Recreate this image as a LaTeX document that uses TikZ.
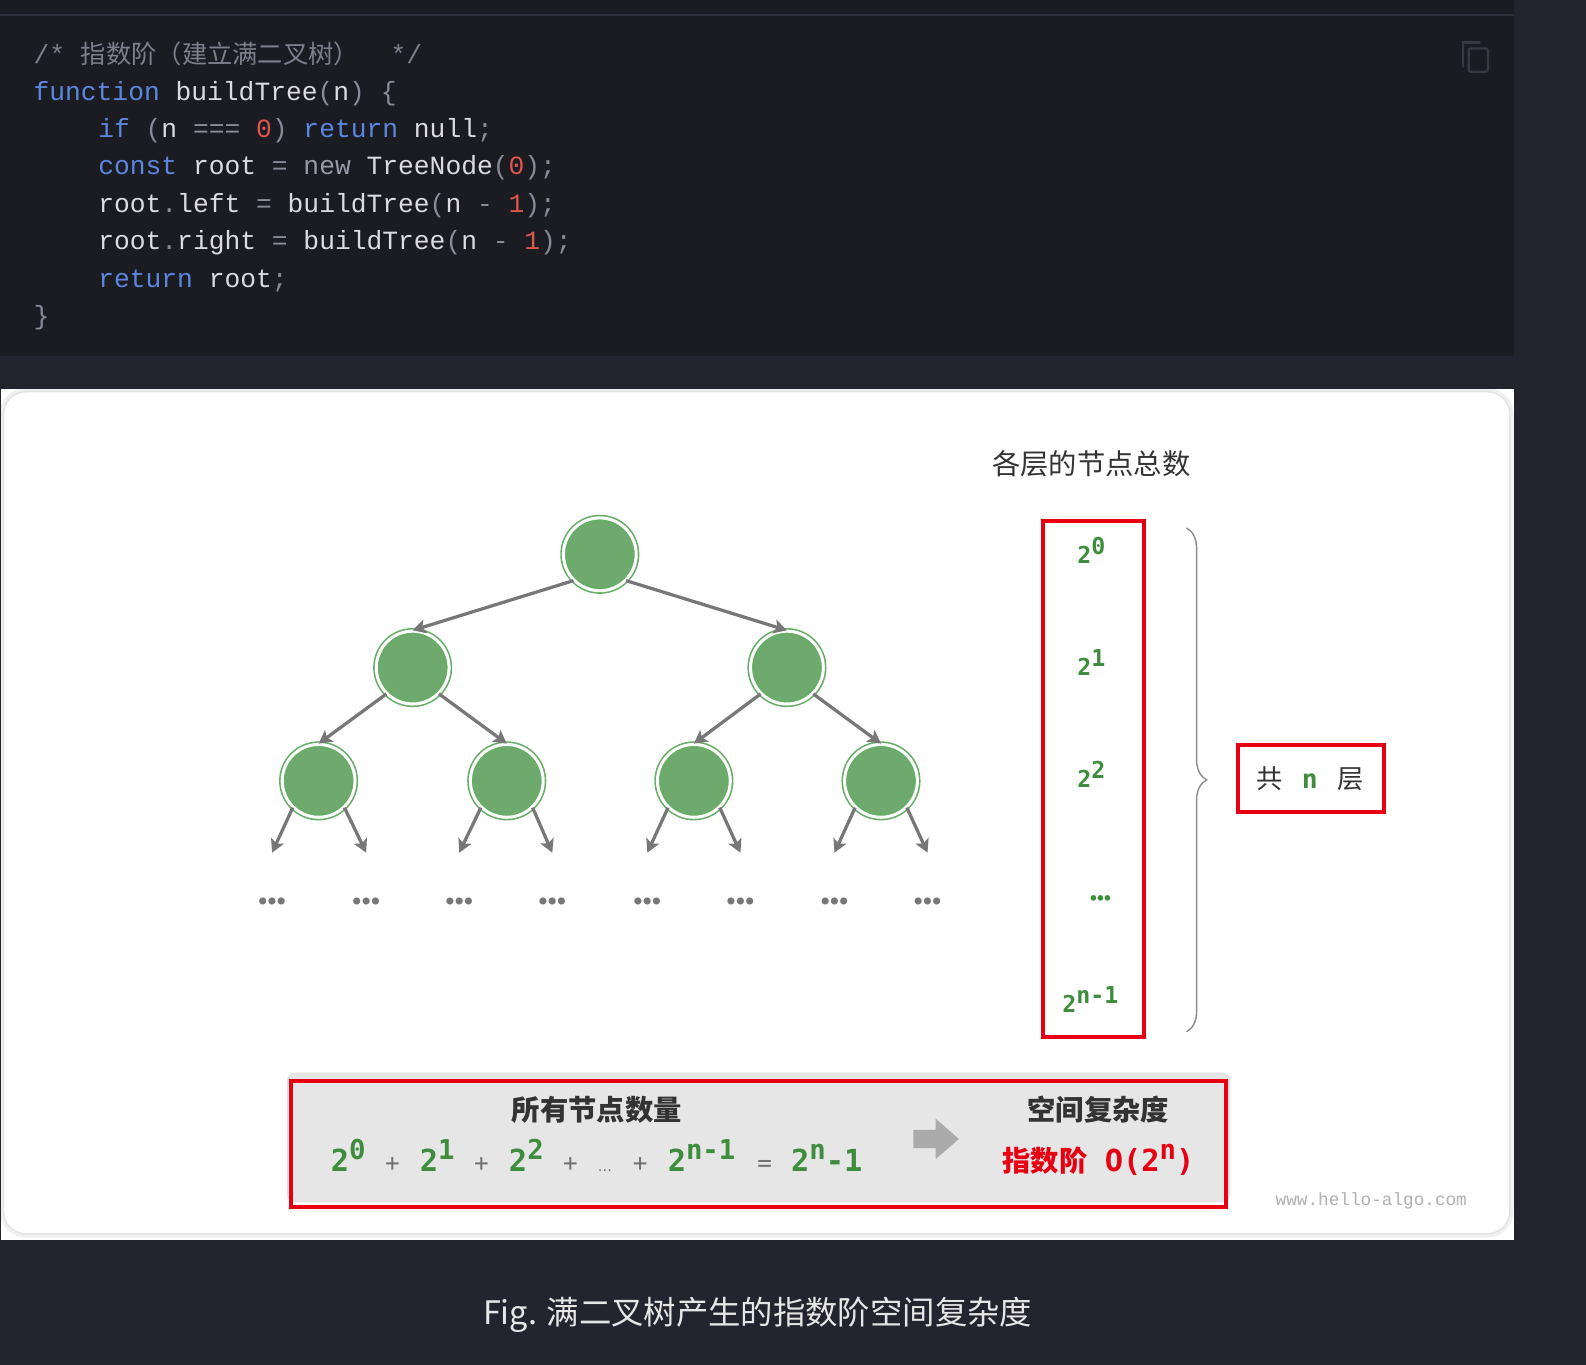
\documentclass[tikz,border=0pt]{standalone}
\usepackage{fontspec}
\usetikzlibrary{arrows.meta,decorations.pathreplacing}
\newfontfamily\cjk{Noto Sans CJK SC}
\newfontfamily\codefont{Liberation Mono}
\newfontfamily\numfont{DejaVu Sans Mono}
\newfontfamily\dvs{DejaVu Sans}
\newcommand\setfs[1]{\fontsize{#1}{#1}\selectfont}
\newcommand\hi[2]{\raisebox{#1}{#2}}
\newcommand\bigdots{•\kern-5pt•\kern-5pt•}
\newcommand\coldots{•\kern-4.2pt•\kern-4.2pt•}
\definecolor{pagebg}{HTML}{24242E}
\definecolor{panelbg}{HTML}{1B1B22}
\definecolor{topline}{HTML}{30303B}
\definecolor{kwblue}{HTML}{5C87E0}
\definecolor{idwhite}{HTML}{DCDCE0}
\definecolor{pungray}{HTML}{8A8A98}
\definecolor{numred}{HTML}{E0554E}
\definecolor{cmtgray}{HTML}{7E7E8C}
\definecolor{newgray}{HTML}{9A9AA8}
\definecolor{icongray}{HTML}{383842}
\definecolor{nodegreen}{HTML}{6EAA6E}
\definecolor{ringgreen}{HTML}{66AE66}
\definecolor{edgegray}{HTML}{777777}
\definecolor{txtdark}{HTML}{333333}
\definecolor{numgreen}{HTML}{3D8D3D}
\definecolor{redbox}{HTML}{E60012}
\definecolor{boxgray}{HTML}{E6E6E6}
\definecolor{arrowgray}{HTML}{ABABAB}
\definecolor{urlgray}{HTML}{B0B0B0}
\definecolor{bracegray}{HTML}{8C8C8C}
\definecolor{captxt}{HTML}{E6E6E6}
\definecolor{plusgray}{HTML}{707070}
\newcommand\KW[1]{\textcolor{kwblue}{#1}}
\newcommand\PN[1]{\textcolor{pungray}{#1}}
\newcommand\NM[1]{\textcolor{numred}{#1}}
\begin{document}
\begin{tikzpicture}[x=1pt,y=-1pt,
  codeline/.style={anchor=base west, inner sep=0, font=\codefont\setfs{26}, text=idwhite},
  treenode/.style={circle, minimum size=72pt, inner sep=0, fill=nodegreen, draw=ringgreen, double=white, double distance=3pt, line width=1.6pt},
  edge/.style={draw=edgegray, line width=3.2pt, -{Stealth[length=13pt,width=14pt,inset=3pt]}},
  treedots/.style={inner sep=0, font=\dvs\setfs{24}, text=edgegray},
  collbl/.style={anchor=base west, inner sep=0, font=\numfont\bfseries\setfs{23}, text=numgreen},
  fml/.style={anchor=base west, inner sep=0, font=\numfont\bfseries\setfs{30}, text=numgreen},
  fplus/.style={anchor=base, inner sep=0, font=\numfont\setfs{24}, text=plusgray},
  redframe/.style={draw=redbox, line width=4pt, inner sep=0},
  bracestyle/.style={decorate, decoration={brace, amplitude=20pt}, draw=bracegray, line width=1.4pt},
]
\useasboundingbox (0,0) rectangle (1568,1349);
\fill[pagebg] (0,0) rectangle (1568,1349);
% code panel
\fill[panelbg] (0,0) rectangle (1497,352);
\draw[topline, line width=2pt] (0,15) -- (1497,15);
\draw[icongray, line width=2.2pt, line cap=round] (1446,66) -- (1446,42) -- (1463,42);
\draw[icongray, line width=2.2pt, rounded corners=2pt] (1452,48) rectangle (1471,71);
\node[codeline, text=cmtgray] (c1) at (33,63) {/* {\cjk\setfs{25}指数阶（建立满二叉树）}\ \ */};
\node[codeline] (c2) at (33,99) {\KW{function} buildTree\PN{(}n\PN{)} \PN{\{}};
\node[codeline] (c3) at (97,136) {\KW{if} \PN{(}n \PN{===} \NM{0}\PN{)} \KW{return} null\PN{;}};
\node[codeline] (c4) at (97,173) {\KW{const} root \PN{=} \textcolor{newgray}{new} TreeNode\PN{(}\NM{0}\PN{);}};
\node[codeline] (c5) at (97,210) {root\PN{.}left \PN{=} buildTree\PN{(}n \PN{-} \NM{1}\PN{);}};
\node[codeline] (c6) at (97,247) {root\PN{.}right \PN{=} buildTree\PN{(}n \PN{-} \NM{1}\PN{);}};
\node[codeline] (c7) at (97,284) {\KW{return} root\PN{;}};
\node[codeline] (c8) at (33,321) {\PN{\}}};
% figure panel
\begin{scope}
\clip (1,385) rectangle (1497,1226);
\fill[white] (1,385) rectangle (1497,1226);
\draw[black!6, line width=9pt, rounded corners=22pt] (4,388) rectangle (1492,1219);
\draw[black!11, line width=3pt, rounded corners=22pt] (4,388) rectangle (1492,1219);
\fill[white, rounded corners=22pt] (4,388) rectangle (1492,1219);
\end{scope}
% caption
\node[anchor=base, inner sep=0, font=\cjk\setfs{32}, text=captxt] (cap) at (749,1309) {Fig. 满二叉树产生的指数阶空间复杂度};
% tree
\node[treenode] (r) at (593,548) {};
\node[treenode] (a) at (408,660) {};
\node[treenode] (b) at (778,660) {};
\node[treenode] (aa) at (315,772) {};
\node[treenode] (ab) at (501,772) {};
\node[treenode] (ba) at (686,772) {};
\node[treenode] (bb) at (871,772) {};
\draw[edge] (r.-135) -- (a.north);
\draw[edge] (r.-45) -- (b.north);
\draw[edge] (a.-135) -- (aa.north);
\draw[edge] (a.-45) -- (ab.north);
\draw[edge] (b.-135) -- (ba.north);
\draw[edge] (b.-45) -- (bb.north);
\foreach \n/\x/\y in {aa/269/362, ab/454/546, ba/640/732, bb/825/917}{
  \coordinate (\n L) at (\x,843);
  \coordinate (\n R) at (\y,843);
  \draw[edge] (\n.-134) -- (\n L);
  \draw[edge] (\n.-46) -- (\n R);
  \node[treedots] (\n dl) at (\x,894) {\bigdots};
  \node[treedots] (\n dr) at (\y,894) {\bigdots};
}
% level column
\node[anchor=base, inner sep=0, font=\cjk\setfs{28}, text=txtdark] (h0) at (1079,469) {各层的节点总数};
\node[redframe, minimum width=100pt, minimum height=510pt] (colbox) at (1081,770) {};
\node[collbl] (l0) at (1065,557) {2\hi{9pt}{0}};
\node[collbl] (l1) at (1065,668) {2\hi{9pt}{1}};
\node[collbl] (l2) at (1065,779) {2\hi{9pt}{2}};
\node[inner sep=0, font=\dvs\setfs{19}, text=numgreen] (l3) at (1088,890) {\coldots};
\node[collbl] (l4) at (1050,1001) {2\hi{9pt}{n-1}};
\draw[bracestyle] (1173,522) -- (1173,1020);
\node[redframe, minimum width=144pt, minimum height=66pt] (nbox) at (1296,770) {};
\node[anchor=base, inner sep=0, font=\cjk\setfs{26}, text=txtdark] (g1) at (1255,780) {共};
\node[anchor=base, inner sep=0, font=\numfont\bfseries\setfs{26}, text=numgreen] (g2) at (1295,780) {n};
\node[anchor=base, inner sep=0, font=\cjk\setfs{26}, text=txtdark] (g3) at (1335,780) {层};
% bottom box
\fill[boxgray, rounded corners=8pt] (284,1061) rectangle (1216,1188);
\draw[black!12, line width=1pt, rounded corners=8pt] (284,1061) rectangle (1216,1188);
\node[redframe, minimum width=924pt, minimum height=124pt] (sumbox) at (750,1131) {};
\node[anchor=base, inner sep=0, font=\cjk\bfseries\setfs{28}, text=txtdark] (h1) at (590,1108) {所有节点数量};
\node[anchor=base, inner sep=0, font=\cjk\bfseries\setfs{28}, text=txtdark] (h2) at (1086,1108) {空间复杂度};
\node[fml] (f1) at (327,1158) {2\hi{12pt}{\setfs{27}0}};
\node[fplus] (p1) at (388,1158) {+};
\node[fml] (f2) at (415,1158) {2\hi{12pt}{\setfs{27}1}};
\node[fplus] (p2) at (476,1158) {+};
\node[fml] (f3) at (503,1158) {2\hi{12pt}{\setfs{27}2}};
\node[fplus] (p3) at (564,1158) {+};
\node[anchor=base, inner sep=0, font=\dvs\setfs{14}, text=plusgray] (fe) at (598,1158) {…};
\node[fplus] (p4) at (633,1158) {+};
\node[fml] (f4) at (660,1158) {2\hi{12pt}{\setfs{27}n-1}};
\node[fplus] (p5) at (756,1158) {=};
\node[fml] (f5) at (782,1158) {2\hi{12pt}{\setfs{27}n}-1};
\fill[arrowgray] (903,1117) -- (925,1117) -- (925,1106) -- (948,1126) -- (925,1146) -- (925,1135) -- (903,1135) -- cycle;
\node[anchor=base west, inner sep=0, font=\cjk\bfseries\setfs{28}, text=redbox] (z1) at (991,1158) {指数阶};
\node[anchor=base west, inner sep=0, font=\numfont\bfseries\setfs{30}, text=redbox] (z2) at (1092,1158) {O(2\hi{12pt}{\setfs{27}n})};
\node[anchor=base west, inner sep=0, font=\codefont\setfs{17.5}, text=urlgray] (url) at (1261,1192) {www.hello-algo.com};
\end{tikzpicture}
\end{document}
